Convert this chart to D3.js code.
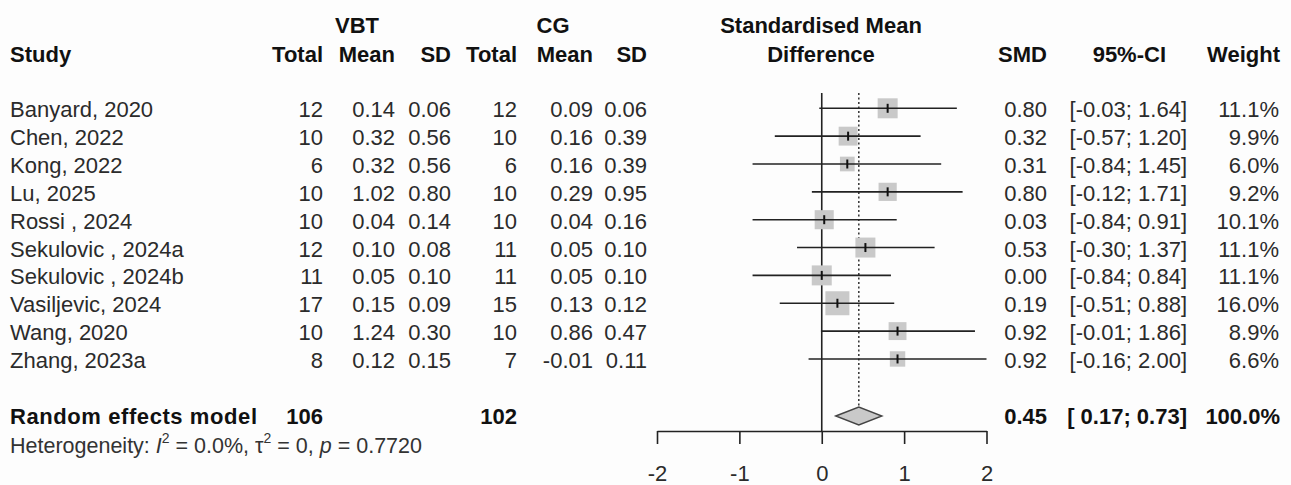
<!DOCTYPE html>
<html><head><meta charset="utf-8">
<script src="https://cdn.jsdelivr.net/npm/d3@7"></script>
<style>
html,body{margin:0;padding:0;background:#fdfdfd;}
svg{display:block;font-family:"Liberation Sans",Arial,sans-serif;}
</style></head><body>
<svg id="c" width="1291" height="485"></svg>
<script>
const studies = ["Banyard, 2020","Chen, 2022","Kong, 2022","Lu, 2025","Rossi , 2024","Sekulovic , 2024a","Sekulovic , 2024b","Vasiljevic, 2024","Wang, 2020","Zhang, 2023a"];
const vbtTotal = [12,10,6,10,10,12,11,17,10,8];
const vbtMean = ["0.14","0.32","0.32","1.02","0.04","0.10","0.05","0.15","1.24","0.12"];
const vbtSD = ["0.06","0.56","0.56","0.80","0.14","0.08","0.10","0.09","0.30","0.15"];
const cgTotal = [12,10,6,10,10,11,11,15,10,7];
const cgMean = ["0.09","0.16","0.16","0.29","0.04","0.05","0.05","0.13","0.86","-0.01"];
const cgSD = ["0.06","0.39","0.39","0.95","0.16","0.10","0.10","0.12","0.47","0.11"];
const smd = [0.80,0.32,0.31,0.80,0.03,0.53,0.00,0.19,0.92,0.92];
const lower = [-0.03,-0.57,-0.84,-0.12,-0.84,-0.30,-0.84,-0.51,-0.01,-0.16];
const upper = [1.64,1.20,1.45,1.71,0.91,1.37,0.84,0.88,1.86,2.00];
const weight = [11.1,9.9,6.0,9.2,10.1,11.1,11.1,16.0,8.9,6.6];
const pooled = {smd:0.45, lower:0.17, upper:0.73, weight:100.0, nVBT:106, nCG:102};
const axisTicks = [-2,-1,0,1,2];

const svg = d3.select("#c");
const FS = 22;
const x = d3.scaleLinear().domain([-2,2]).range([657,986.5]);
const rowY = d3.scaleLinear().domain([0,1]).range([108.3,136.15]);
const txtCol = "#2b2b2b";
const fmt2 = v => v.toFixed(2);
const fmtCI = v => (v<0 ? "" : " ") + fmt2(v);

// header
const hdr = svg.append("g").attr("font-weight","bold").attr("font-size",FS).attr("fill","#111");
hdr.append("text").attr("x",357).attr("y",33).attr("text-anchor","middle").text("VBT");
hdr.append("text").attr("x",553).attr("y",33).attr("text-anchor","middle").text("CG");
hdr.append("text").attr("x",821).attr("y",33).attr("text-anchor","middle").text("Standardised Mean");
hdr.append("text").attr("x",821).attr("y",62).attr("text-anchor","middle").text("Difference");
hdr.append("text").attr("x",10).attr("y",62).text("Study");
const hcols = [["Total",323],["Mean",395],["SD",451],["Total",517],["Mean",593],["SD",647],["SMD",1047],["95%-CI",1166],["Weight",1280]];
hcols.forEach(([t,xx])=>hdr.append("text").attr("x",xx).attr("y",62).attr("text-anchor","end").text(t));

// rows text
const cols = [
  [vbtTotal, 323], [vbtMean, 395], [vbtSD, 451],
  [cgTotal, 517], [cgMean, 593], [cgSD, 647],
  [smd.map(fmt2), 1047],
  [studies.map((_,i)=>"[" + fmt2(lower[i]) + "; " + fmt2(upper[i]) + "]"), 1187],
  [weight.map(w=>w.toFixed(1)+"%"), 1279]
];
const body = svg.append("g").attr("font-size",FS).attr("fill",txtCol);
body.selectAll("text.study").data(studies).join("text").attr("class","study")
  .attr("x",10).attr("y",(d,i)=>rowY(i)+9).text(d=>d);
cols.forEach(([arr,xx])=>{
  body.append("g").selectAll("text").data(arr).join("text")
    .attr("x",xx).attr("y",(d,i)=>rowY(i)+9).attr("text-anchor","end").text(d=>d);
});

// pooled row
const pY = 416;
const pg = svg.append("g").attr("font-size",FS).attr("font-weight","bold").attr("fill","#111");
pg.append("text").attr("x",10).attr("y",pY+8).attr("textLength",247).text("Random effects model");
pg.append("text").attr("x",323).attr("y",pY+8).attr("text-anchor","end").text(pooled.nVBT);
pg.append("text").attr("x",517).attr("y",pY+8).attr("text-anchor","end").text(pooled.nCG);
pg.append("text").attr("x",1047).attr("y",pY+8).attr("text-anchor","end").text(fmt2(pooled.smd));
pg.append("text").attr("x",1187).attr("y",pY+8).attr("text-anchor","end").text("[" + fmtCI(pooled.lower) + "; " + fmt2(pooled.upper) + "]");
pg.append("text").attr("x",1280).attr("y",pY+8).attr("text-anchor","end").text(pooled.weight.toFixed(1)+"%");

// heterogeneity
const het = svg.append("text").attr("x",10).attr("y",453).attr("font-size",21.5).attr("fill","#333");
het.append("tspan").text("Heterogeneity: ");
het.append("tspan").attr("font-style","italic").text("I");
het.append("tspan").attr("font-size",14).attr("dy",-10).text("2");
het.append("tspan").attr("dy",10).text(" = 0.0%, τ");
het.append("tspan").attr("font-size",14).attr("dy",-10).text("2");
het.append("tspan").attr("dy",10).text(" = 0, ");
het.append("tspan").attr("font-style","italic").text("p");
het.append("tspan").text(" = 0.7720");

// plot
const axisY = 431;
const plot = svg.append("g");
plot.append("line").attr("x1",x(0)).attr("x2",x(0)).attr("y1",93).attr("y2",axisY)
  .attr("stroke","#222").attr("stroke-width",1.6);
plot.append("line").attr("x1",x(pooled.smd)).attr("x2",x(pooled.smd)).attr("y1",93).attr("y2",pY-9)
  .attr("stroke","#222").attr("stroke-width",1.4).attr("stroke-dasharray","2,2.5");

studies.forEach((s,i)=>{
  const cy = rowY(i);
  const side = 6.0*Math.sqrt(weight[i]);
  plot.append("rect").attr("x",x(smd[i])-side/2).attr("y",cy-side/2).attr("width",side).attr("height",side)
    .attr("fill","#c9c9c9");
  plot.append("line").attr("x1",x(lower[i])).attr("x2",x(upper[i])).attr("y1",cy).attr("y2",cy)
    .attr("stroke","#222").attr("stroke-width",1.6);
  plot.append("line").attr("x1",x(smd[i])).attr("x2",x(smd[i])).attr("y1",cy-4.5).attr("y2",cy+4.5)
    .attr("stroke","#111").attr("stroke-width",2);
});

plot.append("path")
  .attr("d", d3.line()([[x(pooled.lower),pY],[x(pooled.smd),pY-9],[x(pooled.upper),pY],[x(pooled.smd),pY+9]]) + "Z")
  .attr("fill","#c9c9c9").attr("stroke","#444").attr("stroke-width",1.4);

const ax = svg.append("g").attr("transform",`translate(0,${axisY})`)
  .call(d3.axisBottom(x).tickValues(axisTicks).tickFormat(d => String(d)).tickSize(13).tickSizeOuter(0).tickPadding(21));
ax.select(".domain").attr("stroke","#222").attr("stroke-width",1.6);
ax.selectAll(".tick line").attr("stroke","#222").attr("stroke-width",1.6);
ax.selectAll(".tick text").attr("font-size",FS).attr("font-family","Liberation Sans, Arial, sans-serif").attr("fill",txtCol);
</script>
</body></html>
